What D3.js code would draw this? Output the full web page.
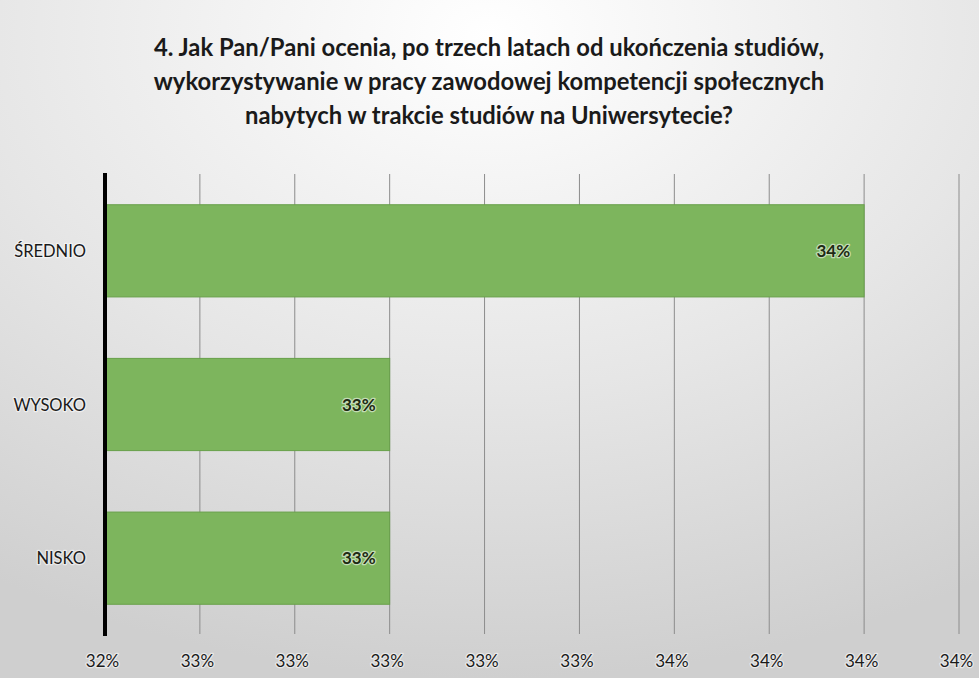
<!DOCTYPE html>
<html>
<head>
<meta charset="utf-8">
<script src="https://cdn.jsdelivr.net/npm/d3@7"></script>
<style>
  body { margin: 0; padding: 0; }
  svg { display: block; }
  .lbl { paint-order: stroke; stroke: #fff; stroke-width: 2.5px; stroke-linejoin: round; stroke-opacity: 0.55; }
</style>
</head>
<body>
<svg id="chart" width="979" height="678"></svg>
<script>
'use strict';

// categories, top to bottom
var categories = ['ŚREDNIO', 'WYSOKO', 'NISKO'];
var values = [0.34, 0.33, 0.33];
var tickValues = [0.324, 0.326, 0.328, 0.330, 0.332, 0.334, 0.336, 0.338, 0.340, 0.342];
var titleLines = [
	'4. Jak Pan/Pani ocenia, po trzech latach od ukończenia studiów,',
	'wykorzystywanie w pracy zawodowej kompetencji społecznych',
	'nabytych w trakcie studiów na Uniwersytecie?'
];

var W = 979, H = 678;
var font = 'Lato, "Open Sans", sans-serif';

var svg = d3.select('#chart');

// - background: light radial fade like the office chart
var defs = svg.append('defs');
var grad = defs.append('radialGradient')
	.attr('id', 'bg')
	.attr('cx', '50%').attr('cy', '5%').attr('r', '95%');
grad.append('stop').attr('offset', '0%').attr('stop-color', '#ffffff');
grad.append('stop').attr('offset', '55%').attr('stop-color', '#e6e6e6');
grad.append('stop').attr('offset', '100%').attr('stop-color', '#cfcfcf');

svg.append('rect').attr('width', W).attr('height', H).attr('fill', 'url(#bg)');

var x = d3.scaleLinear().domain([0.324, 0.342]).range([105, 959]);
var y = d3.scaleBand().domain(categories).range([174, 635]).paddingInner(0.4).paddingOuter(0.2);

// title
svg.append('g').selectAll('text')
	.data(titleLines)
	.join('text')
		.attr('x', 489)
		.attr('y', (d, i) => 56 + i * 34)
		.attr('text-anchor', 'middle')
		.attr('font-family', font)
		.attr('font-weight', 'bold')
		.attr('font-size', 23.8)
		.attr('fill', '#1a1a1a')
		.text(d => d);

// gridlines
svg.append('g').selectAll('line')
	.data(tickValues.slice(1))
	.join('line')
		.attr('x1', d => x(d)).attr('x2', d => x(d))
		.attr('y1', 174).attr('y2', 634)
		.attr('stroke', '#8c8c8c')
		.attr('stroke-width', 1);

// bars
var data = categories.map((c, i) => ({cat: c, val: values[i]}));

svg.append('g').selectAll('rect')
	.data(data)
	.join('rect')
		.attr('x', x(0.324))
		.attr('y', d => y(d.cat))
		.attr('width', d => x(d.val) - x(0.324))
		.attr('height', y.bandwidth())
		.attr('fill', '#7db55d')
		.attr('stroke', '#68a04a')
		.attr('stroke-width', 1);

// value labels
svg.append('g').selectAll('text')
	.data(data)
	.join('text')
		.attr('class', 'lbl')
		.attr('x', d => x(d.val) - 14)
		.attr('y', d => y(d.cat) + y.bandwidth() / 2 + 6)
		.attr('text-anchor', 'end')
		.attr('font-family', font)
		.attr('font-weight', 'bold')
		.attr('font-size', 17)
		.attr('fill', '#1e2b14')
		.text(d => Math.round(d.val * 100) + '%');

// y axis line
svg.append('line')
	.attr('x1', x(0.324)).attr('x2', x(0.324))
	.attr('y1', 173).attr('y2', 636)
	.attr('stroke', '#000')
	.attr('stroke-width', 4);

// category labels
svg.append('g').selectAll('text')
	.data(categories)
	.join('text')
		.attr('class', 'lbl')
		.attr('x', 86)
		.attr('y', d => y(d) + y.bandwidth() / 2 + 6)
		.attr('text-anchor', 'end')
		.attr('font-family', font)
		.attr('font-size', 16.5)
		.attr('fill', '#1a1a1a')
		.text(d => d);

// x axis labels
var xAxis = d3.axisBottom(x)
	.tickValues(tickValues)
	.tickSize(0)
	.tickPadding(0)
	.tickFormat(d => Math.round(d * 100) + '%');

var gx = svg.append('g')
	.attr('transform', 'translate(0,655)')
	.call(xAxis);
gx.select('.domain').remove();
gx.selectAll('text')
	.attr('class', 'lbl')
	.attr('font-family', font)
	.attr('font-size', 17)
	.attr('fill', '#1a1a1a')
	.attr('dx', -3);
</script>
</body>
</html>
